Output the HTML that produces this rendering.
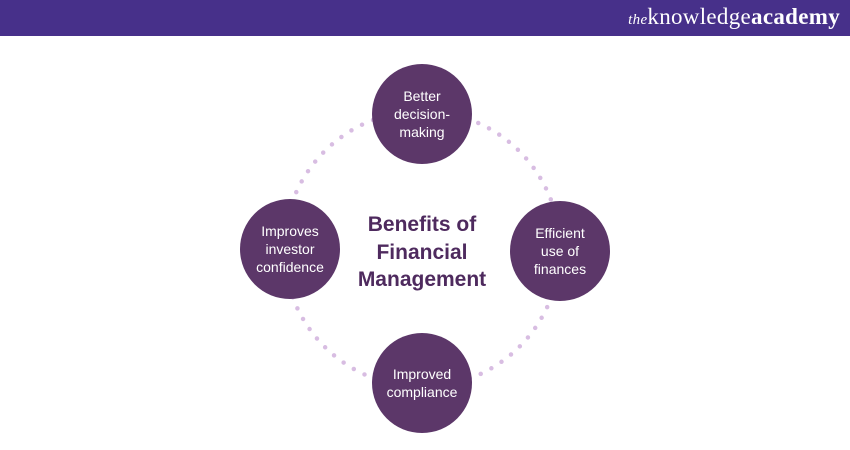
<!DOCTYPE html>
<html><head><style>
body{margin:0;width:850px;height:450px;background:#fff;overflow:hidden;font-family:"Liberation Sans",sans-serif}
.hdr{position:absolute;left:0;top:0;width:850px;height:36px;background:#47308a}
.logo{position:absolute;right:10px;top:4px;color:#fff;font-family:"Liberation Serif",serif;font-size:23px;letter-spacing:0.3px}
.logo i{font-size:15px}
.c{position:absolute;width:100px;height:100px;border-radius:50%;background:#5c3769;color:#fff;display:flex;align-items:center;justify-content:center;text-align:center;font-size:14px;line-height:18px}
.t{position:absolute;left:337px;top:211px;width:170px;text-align:center;color:#4e2a5e;font-weight:bold;font-size:21px;line-height:27.5px}
</style></head><body>
<div class="hdr"><div class="logo"><i>the</i>knowledge<b>academy</b></div></div>
<svg width="850" height="450" style="position:absolute;left:0;top:0">
<circle cx="422" cy="249" r="138" fill="none" stroke="#d8bde2" stroke-width="4.5" stroke-linecap="round" stroke-dasharray="0 12"/>
</svg>
<div class="c" style="left:372px;top:64px">Better<br>decision-<br>making</div>
<div class="c" style="left:240px;top:199px">Improves<br>investor<br>confidence</div>
<div class="c" style="left:510px;top:201px">Efficient<br>use of<br>finances</div>
<div class="c" style="left:372px;top:333px">Improved<br>compliance</div>
<div class="t">Benefits of<br>Financial<br>Management</div>
</body></html>
